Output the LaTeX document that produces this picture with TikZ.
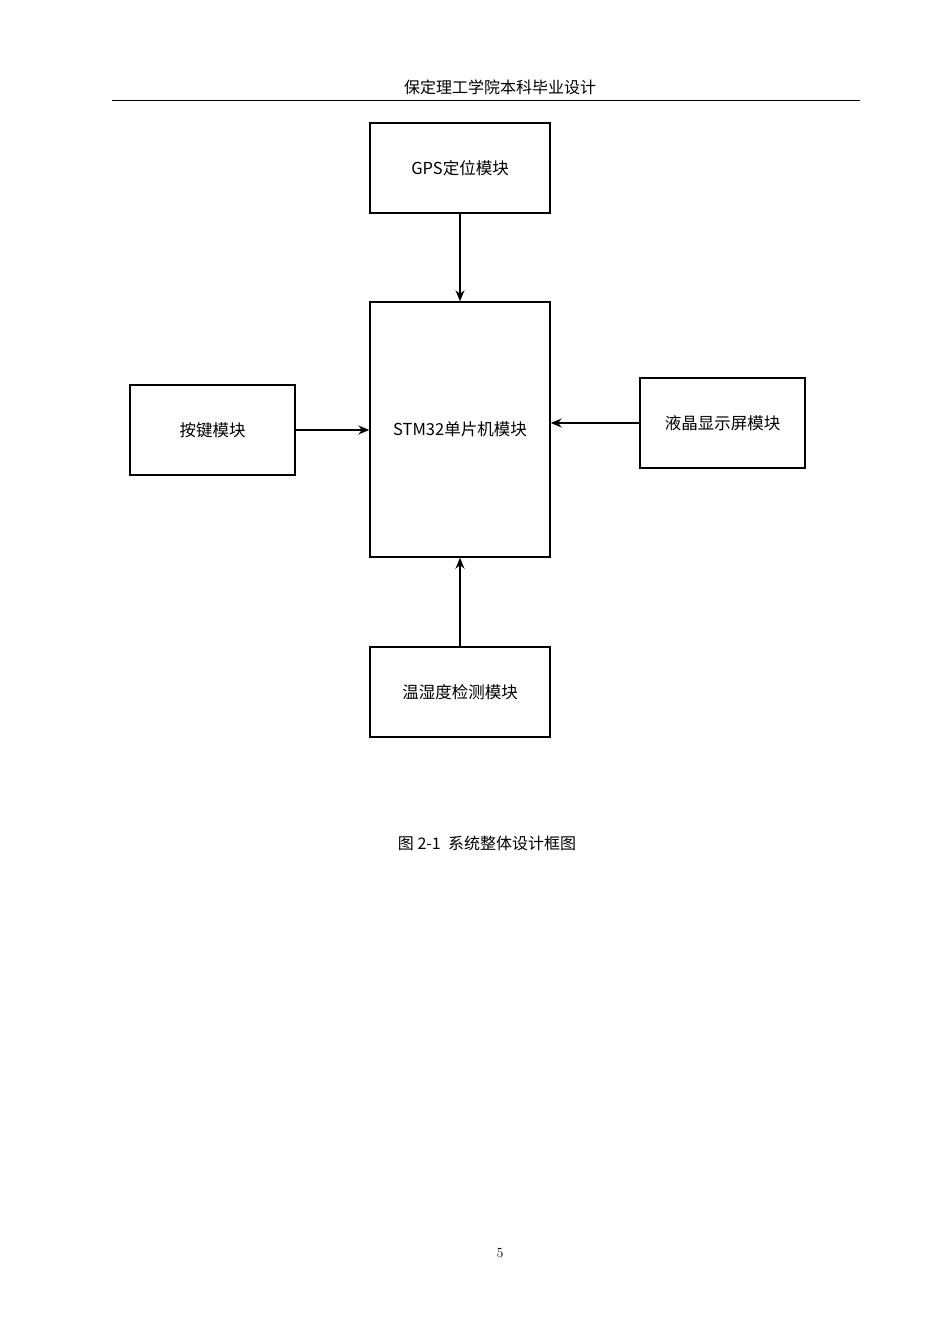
\documentclass[tikz,border=0pt]{standalone}
\usepackage{fontspec}
\usetikzlibrary{arrows.meta}
\newfontfamily\cjk{Noto Sans CJK SC}
\begin{document}
\begin{tikzpicture}[x=1pt,y=-1pt,
  box/.style={draw,line width=1.4pt,minimum width=180pt,minimum height=90pt,inner sep=0pt,font=\cjk\fontsize{16.5}{19}\selectfont},
  arr/.style={-{Stealth[length=11pt,width=9pt]},line width=1.4pt}]
\useasboundingbox (0,0) rectangle (950,1344);
\node[font=\cjk\fontsize{16}{19}\selectfont] (hdr) at (500,87) {保定理工学院本科毕业设计};
\draw[line width=1pt] (112,100) -- (860,100);
\node[box] (gps) at (460,168) {GPS定位模块};
\node[box,minimum height=255pt] (mcu) at (460,429.5) {STM32单片机模块};
\node[box,minimum width=165pt] (key) at (212.5,430) {按键模块};
\node[box,minimum width=165pt] (lcd) at (722.5,423) {液晶显示屏模块};
\node[box] (th) at (460,692) {温湿度检测模块};
\draw[arr] (gps.south) -- (mcu.north);
\draw[arr] (key.east) -- (key.east -| mcu.west);
\draw[arr] (lcd.west) -- (lcd.west -| mcu.east);
\draw[arr] (th.north) -- (mcu.south);
\node[font=\cjk\fontsize{16}{19}\selectfont] (cap) at (487,843) {图 2-1\ \ 系统整体设计框图};
\node[font=\fontsize{14}{16}\selectfont] (pg) at (500,1253) {5};
\end{tikzpicture}
\end{document}
